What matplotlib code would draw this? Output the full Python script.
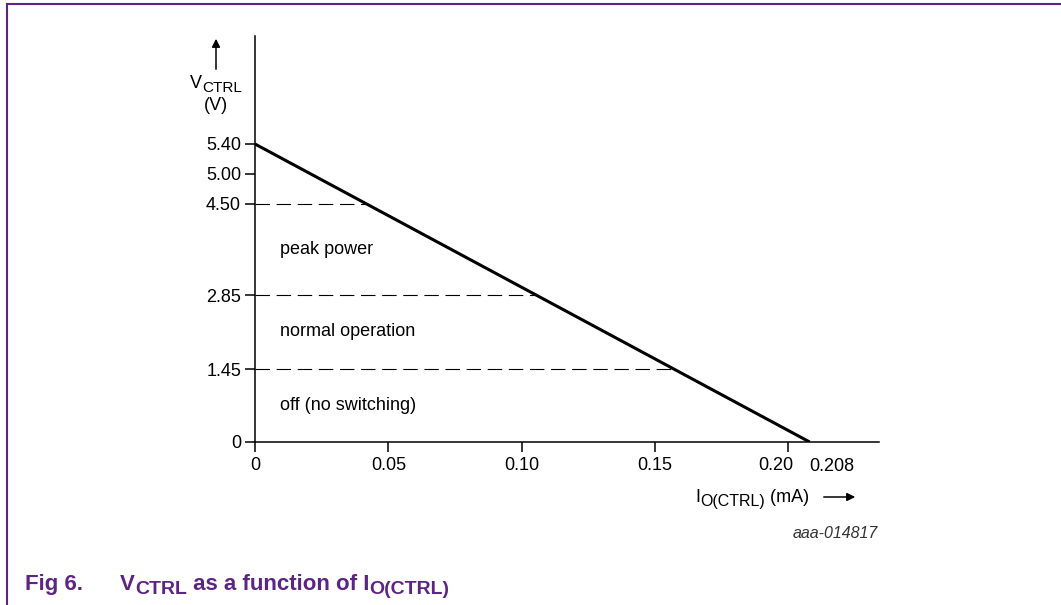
import numpy as np
import matplotlib.pyplot as plt
import matplotlib.transforms as mt
from matplotlib.lines import Line2D

plt.rcParams['font.family'] = 'Liberation Sans'
plt.rcParams['mathtext.fontset'] = 'custom'
plt.rcParams['mathtext.rm'] = 'Liberation Sans'

# end points of the V_CTRL(I_O(CTRL)) line
i_ctrl = [0, 0.208]
v_ctrl = [5.40, 0]

x_ticks = [0, 0.05, 0.10, 0.15, 0.20]
x_labels = ['0', '0.05', '0.10', '0.15', '0.20']
y_ticks = [0, 1.45, 2.85, 4.50, 5.00, 5.40]
y_labels = ['0', '1.45', '2.85', '4.50', '5.00', '5.40']
levels = [1.45, 2.85, 4.50]
regions = ['off (no switching)', 'normal operation', 'peak power']

# the y axis is schematic (not linear): height of each value on the drawing
y_at = [0, 1.45, 2.85, 4.50, 5.00, 5.40, 6.6]
y_px = [0, 73, 147, 238, 268, 298, 406]

def fwd(v):
    return np.interp(v, y_at, y_px)

def inv(p):
    return np.interp(p, y_px, y_at)

purple = '#5c2483'
W, H = 1061, 605
FS = 13
fig = plt.figure(figsize=(W / 100, H / 100), dpi=100)
ax = fig.add_axes([255 / W, (H - 442) / H, (879 - 255) / W, (442 - 36) / H])
ax.set_yscale('function', functions=(fwd, inv))
ax.set_xlim(0, 0.234)
ax.set_ylim(0, 6.6)

ax.plot(i_ctrl, v_ctrl, color='black', lw=2.2, solid_capstyle='butt')

# dashed levels stop where they meet the line (in drawing space)
p0, p1 = fwd(v_ctrl[0]), fwd(v_ctrl[1])
for lv in levels:
    frac = (p0 - fwd(lv)) / (p0 - p1)
    xe = i_ctrl[0] + frac * (i_ctrl[1] - i_ctrl[0])
    ax.plot([0, xe], [lv, lv], color='black', lw=0.8, ls=(0, (13, 6)))

bounds = [0] + levels
for k, name in enumerate(regions):
    ym = inv((fwd(bounds[k]) + fwd(bounds[k + 1])) / 2)
    ax.text(0.0094, ym, name, ha='left', va='center', fontsize=FS)

for s in ['top', 'right']:
    ax.spines[s].set_visible(False)
for s in ['left', 'bottom']:
    ax.spines[s].set_linewidth(1.1)

ax.set_xticks(x_ticks)
ax.set_xticklabels(x_labels)
ax.set_xticks([0.208], ['0.208'], minor=True)
ax.set_yticks(y_ticks)
ax.set_yticklabels(y_labels)
ax.yaxis.set_minor_locator(plt.NullLocator())
ax.tick_params(direction='out', length=7, width=1.1, labelsize=FS, pad=3)
ax.tick_params(axis='x', which='major', pad=4)
ax.tick_params(axis='x', which='minor', length=0, labelsize=FS, pad=11.5)
ax.get_xticklabels()[-1].set_horizontalalignment('right')
ax.get_xticklabels()[-1].set_transform(
    ax.get_xaxis_transform() + mt.ScaledTranslation(5 / 100, -15 / 100, fig.dpi_scale_trans))
ax.get_xticklabels(minor=True)[0].set_horizontalalignment('left')


def runs(x, y, parts, ha='left', **kw):
    # place text pieces one after another (x, y in pixels from top-left)
    r = fig.canvas.get_renderer()
    txts = []
    for s, size, dy in parts:
        t = fig.text(0, 0, s, fontsize=size, va='baseline',
                     transform=mt.IdentityTransform(), **kw)
        txts.append((t, dy))
    widths = [t.get_window_extent(r).width for t, _ in txts]
    x0 = x - sum(widths) / 2 if ha == 'center' else x
    for (t, dy), w in zip(txts, widths):
        t.set_position((x0, H - y - dy))
        x0 += w


# y axis label with arrow
runs(216, 88, [('V', FS, 0), ('CTRL', 11, 4)], ha='center')
fig.text(216 / W, 1 - 105 / H, '(V)', ha='center', va='center', fontsize=FS)
ax.annotate('', xy=(216, H - 36), xytext=(216, H - 72), xycoords='figure pixels',
            arrowprops=dict(arrowstyle='-|>', color='black', lw=1.1, mutation_scale=12))

# x axis label with arrow
runs(695, 502, [('I', FS, 0), ('O(CTRL)', 11.5, 4), (' (mA)', FS, 0)])
ax.annotate('', xy=(858, H - 497), xytext=(821, H - 497), xycoords='figure pixels',
            arrowprops=dict(arrowstyle='-|>', color='black', lw=1.1, mutation_scale=12))

fig.text(878 / W, 1 - 533 / H, 'aaa-014817', ha='right', va='center',
         fontsize=11.5, style='italic', color='#333333')

# caption
fig.text(25 / W, 1 - 590 / H, 'Fig 6.', ha='left', va='baseline', fontsize=16,
         fontweight='bold', color=purple)
runs(120, 590, [('V', 16, 0), ('CTRL', 14, 4), (' as a function of I', 16, 0),
                ('O(CTRL)', 14, 4)], fontweight='bold', color=purple)

# frame
fig.add_artist(Line2D([7 / W, 1], [1 - 4 / H, 1 - 4 / H], color=purple, lw=1.5,
                      transform=fig.transFigure))
fig.add_artist(Line2D([7 / W, 7 / W], [1 - 4 / H, 0], color=purple, lw=1.5,
                      transform=fig.transFigure))

fig.savefig('out.png', dpi=100)
